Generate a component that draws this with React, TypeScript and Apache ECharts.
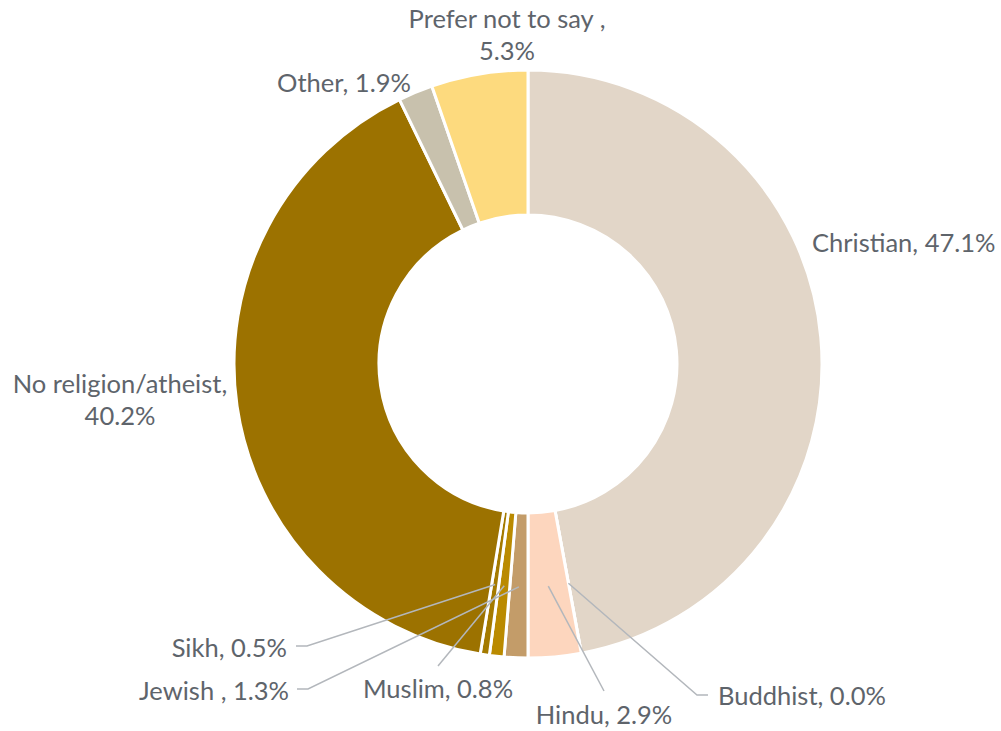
import React, { useEffect, useRef } from 'react';
import * as echarts from 'echarts';

const categories = ['Christian', 'Buddhist', 'Hindu', 'Jewish ', 'Muslim', 'Sikh', 'No religion/atheist', 'Other', 'Prefer not to say '];
const values = [47.1, 0.0, 2.9, 1.3, 0.8, 0.5, 40.2, 1.9, 5.3];
const colors = ['#E2D6C8', '#F4C9A4', '#FDD6BE', '#C39C69', '#BA8A00', '#A47A00', '#9C7200', '#C8C1AD', '#FDDA7E'];
const breakLine = [false, false, false, false, false, false, true, false, true];
const hasLine = [false, true, true, true, true, true, false, false, false];

// label layout (positions only)
const CX = 528, CY = 364, R0 = 149, R1 = 294, RLINE = 223;
const labelPos = [
  { x: 812, y: 242, align: 'left' },
  { x: 718, y: 695, align: 'left' },
  { x: 604, y: 714, align: 'center' },
  { x: 289, y: 690, align: 'right' },
  { x: 438, y: 688, align: 'center' },
  { x: 287, y: 647, align: 'right' },
  { x: 120, y: 399, align: 'center' },
  { x: 344, y: 82, align: 'center' },
  { x: 507, y: 34, align: 'center' },
];
const lineBends: number[][][] = [
  [],
  [[697, 695], [708, 695]],
  [[604, 691]],
  [[308, 689], [297, 689]],
  [[438, 666]],
  [[307, 646], [296, 646]],
  [], [], [],
];

export default function App() {
  const ref = useRef<HTMLDivElement>(null);
  useEffect(() => {
    document.body.style.margin = '0';
    const chart = echarts.init(ref.current!, undefined, { renderer: 'svg' });
    const total = values.reduce((a, b) => a + b, 0);
    const startPoint = (i: number) => {
      let cum = 0;
      for (let k = 0; k < i; k++) cum += values[k];
      cum += values[i] / 2;
      const a = (cum / total) * Math.PI * 2;
      return [CX + RLINE * Math.sin(a), CY - RLINE * Math.cos(a)];
    };
    const base = {
      type: 'pie',
      center: [CX, CY],
      radius: [R0, R1],
      startAngle: 90,
      clockwise: true,
      avoidLabelOverlap: false,
      emphasis: { disabled: true },
    };
    chart.setOption({
      animation: false,
      backgroundColor: '#ffffff',
      series: [
        {
          ...base,
          z: 2,
          itemStyle: { borderColor: '#ffffff', borderWidth: 3 },
          label: { show: false },
          labelLine: { show: false },
          data: categories.map((c, i) => ({
            name: c,
            value: values[i],
            itemStyle: { color: colors[i] },
          })),
        },
        {
          ...base,
          z: 10,
          silent: true,
          itemStyle: { color: 'rgba(0,0,0,0)', borderWidth: 0 },
          label: {
            show: true,
            position: 'outside',
            color: '#5E646B',
            fontSize: 25.5,
            lineHeight: 32,
            fontFamily: 'Lato, "Open Sans", sans-serif',
            formatter: (p: any) =>
              categories[p.dataIndex] + ',' + (breakLine[p.dataIndex] ? '\n' : ' ') + values[p.dataIndex].toFixed(1) + '%',
          },
          labelLine: { show: true, showAbove: true, lineStyle: { color: '#B3B7BC', width: 1.5, opacity: 1 } },
          labelLayout: (params: any) => {
            const i = params.dataIndex;
            const lp = labelPos[i];
            const out: any = { x: lp.x, y: lp.y, align: lp.align, verticalAlign: 'middle' };
            if (hasLine[i]) {
              out.labelLinePoints = [startPoint(i), ...lineBends[i]];
            }
            return out;
          },
          data: categories.map((c, i) => ({
            name: c,
            value: values[i],
            labelLine: { show: hasLine[i] },
          })),
        },
      ],
    });
    return () => chart.dispose();
  }, []);
  return <div ref={ref} style={{ width: 1001, height: 731 }} />;
}
